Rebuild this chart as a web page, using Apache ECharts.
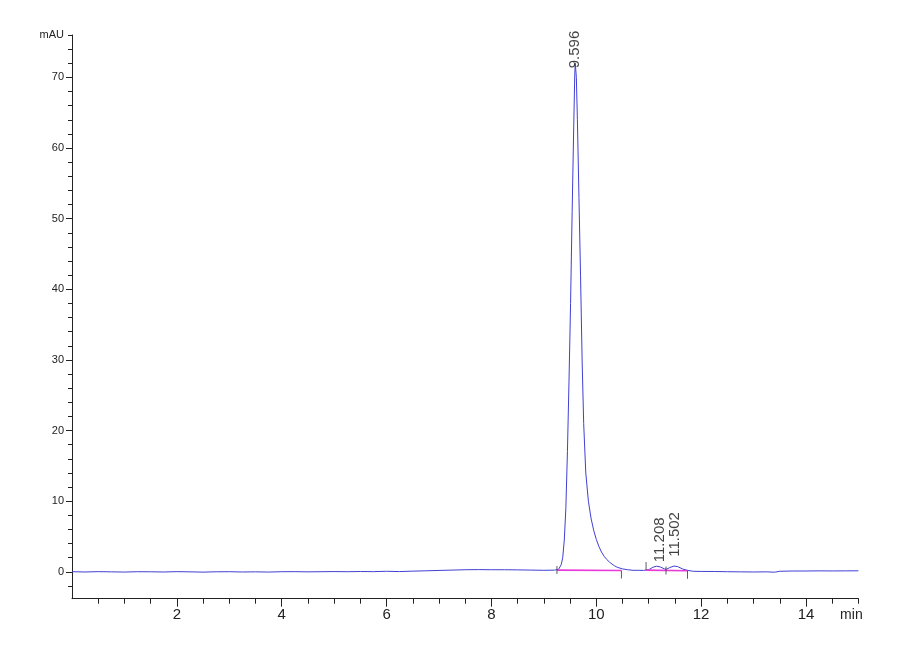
<!DOCTYPE html>
<html><head><meta charset="utf-8">
<script src="https://cdn.jsdelivr.net/npm/echarts@6/dist/echarts.min.js"></script>
<style>html,body{margin:0;padding:0;background:#fff}#c{width:900px;height:660px}</style>
</head><body><div id="c"></div>
<script>
// Retention time (min) and absorbance (mAU)
var times = [0,0.25,0.5,0.75,1.0,1.25,1.5,1.75,2.0,2.25,2.5,2.75,3.0,3.25,3.5,3.75,4.0,4.25,4.5,4.75,5.0,5.25,5.5,5.75,6.0,6.25,6.5,6.75,7.0,7.25,7.5,7.75,8.0,8.25,8.5,8.75,9.0,9.2,
  9.28,9.33,9.36,9.39,9.42,9.45,9.48,9.51,9.54,9.57,9.59,9.60,9.62,9.64,9.67,9.70,9.73,9.76,9.80,9.85,9.90,9.95,10.0,10.05,10.1,10.15,10.2,10.25,10.3,10.35,10.4,10.5,10.6,10.7,10.8,10.9,
  11.0,11.08,11.15,11.22,11.3,11.34,11.4,11.48,11.55,11.65,11.75,11.85,12.0,12.25,12.5,12.75,13.0,13.25,13.4,13.5,13.6,13.75,14.0,14.25,14.5,14.75,15.0];
var signal = [0.02,-0.02,0.03,0.0,-0.03,0.02,0.01,-0.02,0.03,0.0,-0.04,0.01,0.02,-0.02,0.0,-0.03,0.02,0.03,0.0,0.02,0.04,0.02,0.05,0.03,0.08,0.04,0.1,0.15,0.2,0.25,0.3,0.32,0.3,0.3,0.28,0.25,0.22,0.24,
  0.35,1.0,2.0,4.5,9,17,27,38,51,63,70.5,72,70,64,53,42,30,21,14,10,7.6,5.9,4.6,3.6,2.8,2.2,1.75,1.4,1.1,0.85,0.65,0.42,0.3,0.22,0.22,0.2,
  0.3,0.65,0.8,0.7,0.42,0.38,0.6,0.82,0.75,0.4,0.2,0.08,0.06,0.05,0.02,0.0,-0.02,0.0,-0.05,0.08,0.1,0.12,0.12,0.14,0.13,0.14,0.15];

// Peak annotations
var peakTimes = [9.596, 11.208, 11.502];
var peakHeights = [72, 0.8, 0.85];
var peakLabels = ['9.596', '11.208', '11.502'];

// Integration baselines (start/end of each integrated region)
var baseA = [[9.25, 0.25], [10.48, 0.2]];
var baseB = [[10.95, 0.25], [11.74, 0.15]];
// Integration event marks: time, level, placement
var markTimes = [9.25, 10.48, 10.95, 11.33, 11.74];
var markLevels = [0.25, 0.2, 0.25, 0.2, 0.15];
var markPlace = ['mid', 'below', 'above', 'mid', 'below'];

// Axis ticks / labels
var yLabelValues = [0,10,20,30,40,50,60,70,76];
var yMajorTicks = [0,10,20,30,40,50,60,70];
var yMinorTicks = [-2,2,4,6,8,12,14,16,18,22,24,26,28,32,34,36,38,42,44,46,48,52,54,56,58,62,64,66,68,72,74,76];
var xLabelValues = [2,4,6,8,10,12,14,15];
var xMajorTicks = [2,4,6,8,10,12,14];
var xMinorTicks = [0.5,1,1.5,2.5,3,3.5,4.5,5,5.5,6.5,7,7.5,8.5,9,9.5,10.5,11,11.5,12.5,13,13.5,14.5,15];

var trace = times.map(function(t,i){return [t, signal[i]];});
var marks = markTimes.map(function(t,i){
  var off = markPlace[i]==='below' ? [0,4] : (markPlace[i]==='above' ? [0,-4] : [0,0]);
  return {value:[t, markLevels[i]], symbolOffset: off};
});
// offsets are in the rotated label frame: +x moves the text up the page
var labelOffsets = [[-5,0],[4,0],[9,0]];
var peaks = peakTimes.map(function(t,i){
  return {value:[t, peakHeights[i]], name: peakLabels[i], label:{offset: labelOffsets[i]}};
});

var axisCol = '#222';
var narrow = "'Liberation Sans Narrow','Liberation Sans',Arial,sans-serif";
var chart = echarts.init(document.getElementById('c'), null, {renderer:'canvas'});
chart.setOption({
  animation:false,
  backgroundColor:'#fff',
  grid:{left:72,right:41.6,top:35,bottom:61.3,containLabel:false},
  xAxis:[{
    type:'value',min:0,max:15,position:'bottom',
    axisLine:{show:true,onZero:false,lineStyle:{color:axisCol,width:1}},
    splitLine:{show:false},
    axisTick:{show:true,customValues:xMajorTicks,length:8,lineStyle:{color:axisCol}},
    axisLabel:{show:true,customValues:xLabelValues,margin:9,color:'#222',fontSize:15,fontFamily:narrow,
      formatter:function(v){return v===15?'{m|min}':String(v);},
      rich:{m:{fontSize:14,fontFamily:narrow,color:'#222',padding:[0,14,0,0]}}}
  },{
    type:'value',min:0,max:15,position:'bottom',
    axisLine:{show:false,onZero:false},splitLine:{show:false},
    axisTick:{show:true,customValues:xMinorTicks,length:5,lineStyle:{color:axisCol}},
    axisLabel:{show:false}
  }],
  yAxis:[{
    type:'value',min:-3.8,max:76,position:'left',
    axisLine:{show:true,onZero:false,lineStyle:{color:axisCol,width:1}},
    splitLine:{show:false},
    axisTick:{show:true,customValues:yMajorTicks,length:6,lineStyle:{color:axisCol}},
    axisLabel:{show:true,customValues:yLabelValues,margin:8,color:'#222',fontSize:11,fontFamily:"'Liberation Sans',Arial,sans-serif",
      formatter:function(v){return v===76?'mAU':String(v);}}
  },{
    type:'value',min:-3.8,max:76,position:'left',
    axisLine:{show:false,onZero:false},splitLine:{show:false},
    axisTick:{show:true,customValues:yMinorTicks,length:4,lineStyle:{color:axisCol}},
    axisLabel:{show:false}
  }],
  series:[
    {type:'line',data:baseA,xAxisIndex:0,yAxisIndex:0,symbol:'none',lineStyle:{color:'#e83ad8',width:1.6},z:4},
    {type:'line',data:baseB,xAxisIndex:0,yAxisIndex:0,symbol:'none',lineStyle:{color:'#e83ad8',width:1.6},z:4},
    {type:'line',data:trace,xAxisIndex:0,yAxisIndex:0,symbol:'none',smooth:false,lineStyle:{color:'#4040d4',width:1},z:3},
    {type:'scatter',data:marks,xAxisIndex:0,yAxisIndex:0,symbol:'rect',symbolSize:[1,8],itemStyle:{color:'#333'},z:5,silent:true},
    {type:'scatter',data:peaks,xAxisIndex:0,yAxisIndex:0,symbolSize:0,z:6,silent:true,
      label:{show:true,position:[0,0],rotate:90,align:'left',verticalAlign:'middle',color:'#111',fontSize:15,
        fontFamily:"'Liberation Sans',Arial,sans-serif",formatter:function(p){return p.name;}}}
  ]
});
</script></body></html>
